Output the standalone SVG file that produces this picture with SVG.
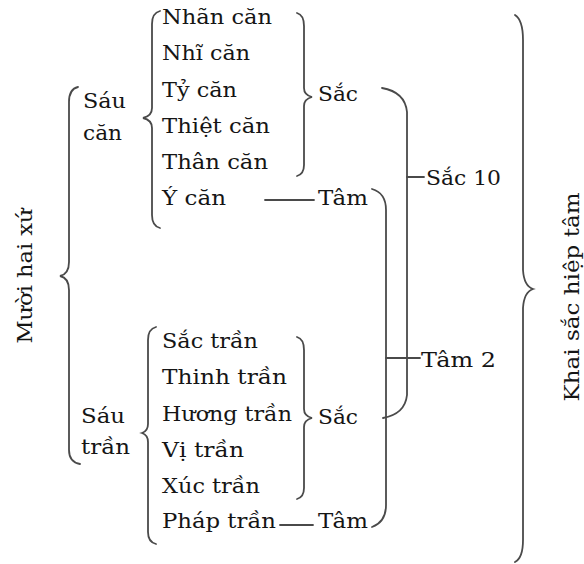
<svg xmlns="http://www.w3.org/2000/svg" width="584" height="564" viewBox="0 0 584 564">
  <style>
    text { font-family: "DejaVu Serif", "Liberation Serif", serif; font-size: 21px; fill: #151515; }
    .br { fill: none; stroke: #4a4a4a; stroke-width: 1.8; stroke-linecap: round; }
  </style>
  <rect width="584" height="564" fill="#ffffff"/>

  <!-- brackets and connecting lines -->
  <g id="connectors">
    <!-- outer left brace: Mười hai xứ -->
    <path class="br" d="M78,87 Q69,89 69,102 L69,262 Q69,274 60,276 Q69,278 69,290 L69,450 Q69,462 80,464"/>
    <!-- brace for Sáu căn -->
    <path class="br" d="M160,11 Q152,13 152,24 L152,108 Q152,116 143,118 Q152,120 152,128 L152,215 Q152,226 160,228"/>
    <!-- brace for Sáu trần -->
    <path class="br" d="M156,327 Q148,329 148,340 L148,424 Q148,431 142,433 Q148,435 148,442 L148,532 Q148,542 156,544"/>
    <!-- closing braces into Sắc -->
    <path class="br" d="M297,13 Q304,15 304,26 L304,88 Q304,95 312,97 Q304,99 304,106 L304,165 Q304,174 297,176"/>
    <path class="br" d="M297,337 Q304,339 304,350 L304,409 Q304,416 312,418 Q304,420 304,427 L304,488 Q304,497 297,499"/>
    <!-- dashes into Tâm -->
    <path class="br" d="M265,200 L314,200"/>
    <path class="br" d="M280,525 L313,525"/>
    <!-- Sắc + Sắc -> Sắc 10 -->
    <path class="br" d="M382,88 Q405,92 407,112 L407,395 Q405,414 383,418"/>
    <path class="br" d="M407,177 L424,177"/>
    <!-- Tâm + Tâm -> Tâm 2 -->
    <path class="br" d="M372,189 Q386,193 386,210 L386,505 Q386,522 372,527"/>
    <path class="br" d="M386,358 L420,358"/>
    <!-- outer right brace -->
    <path class="br" d="M515,15 Q523,20 523,40 L523,270 Q524,286 533,289 Q524,292 523,308 L523,540 Q523,558 515,562"/>
  </g>

  <g id="muoi-hai-xu">
    <text transform="translate(32,276) rotate(-90)" text-anchor="middle" textLength="135" lengthAdjust="spacingAndGlyphs">Mười hai xứ</text>
  </g>

  <g id="sau-can">
    <text x="83" y="108" textLength="43" lengthAdjust="spacingAndGlyphs">Sáu</text>
    <text x="83" y="140" textLength="39" lengthAdjust="spacingAndGlyphs">căn</text>
  </g>

  <g id="sau-tran">
    <text x="81" y="423" textLength="44" lengthAdjust="spacingAndGlyphs">Sáu</text>
    <text x="81" y="454" textLength="49" lengthAdjust="spacingAndGlyphs">trần</text>
  </g>

  <g id="can-list">
    <text x="162" y="24" textLength="110" lengthAdjust="spacingAndGlyphs">Nhãn căn</text>
    <text x="162" y="60" textLength="88" lengthAdjust="spacingAndGlyphs">Nhĩ căn</text>
    <text x="162" y="97" textLength="75" lengthAdjust="spacingAndGlyphs">Tỷ căn</text>
    <text x="162" y="133" textLength="108" lengthAdjust="spacingAndGlyphs">Thiệt căn</text>
    <text x="162" y="169" textLength="106" lengthAdjust="spacingAndGlyphs">Thân căn</text>
    <text x="162" y="205" textLength="64" lengthAdjust="spacingAndGlyphs">Ý căn</text>
  </g>

  <g id="tran-list">
    <text x="162" y="348" textLength="96" lengthAdjust="spacingAndGlyphs">Sắc trần</text>
    <text x="162" y="384" textLength="125" lengthAdjust="spacingAndGlyphs">Thinh trần</text>
    <text x="162" y="421" textLength="130" lengthAdjust="spacingAndGlyphs">Hương trần</text>
    <text x="162" y="457" textLength="82" lengthAdjust="spacingAndGlyphs">Vị trần</text>
    <text x="162" y="493" textLength="98" lengthAdjust="spacingAndGlyphs">Xúc trần</text>
    <text x="162" y="528" textLength="114" lengthAdjust="spacingAndGlyphs">Pháp trần</text>
  </g>

  <g id="sac-upper">
    <text x="318" y="101" textLength="40" lengthAdjust="spacingAndGlyphs">Sắc</text>
  </g>
  <g id="tam-upper">
    <text x="318" y="205" textLength="50" lengthAdjust="spacingAndGlyphs">Tâm</text>
  </g>
  <g id="sac-lower">
    <text x="318" y="424" textLength="40" lengthAdjust="spacingAndGlyphs">Sắc</text>
  </g>
  <g id="tam-lower">
    <text x="318" y="528" textLength="50" lengthAdjust="spacingAndGlyphs">Tâm</text>
  </g>

  <g id="sac-10">
    <text x="426" y="185" textLength="75" lengthAdjust="spacingAndGlyphs">Sắc 10</text>
  </g>
  <g id="tam-2">
    <text x="421" y="367" textLength="75" lengthAdjust="spacingAndGlyphs">Tâm 2</text>
  </g>

  <g id="khai-sac-hiep-tam">
    <text transform="translate(579,297) rotate(-90)" text-anchor="middle" textLength="209" lengthAdjust="spacingAndGlyphs">Khai sắc hiệp tâm</text>
  </g>
</svg>
